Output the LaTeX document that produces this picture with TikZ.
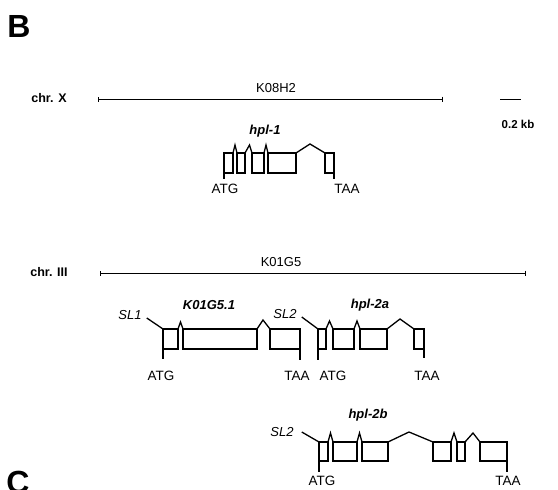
\documentclass[tikz,border=0pt]{standalone}
\usepackage{fontspec}
\setsansfont{Liberation Sans}
\usetikzlibrary{arrows.meta}

\begin{document}
\begin{tikzpicture}[
    x=1pt, y=-1pt,
    font=\sffamily,
    panel/.style={font=\sffamily\bfseries\fontsize{32}{32}\selectfont, inner sep=0pt},
    chr label/.style={font=\sffamily\bfseries\fontsize{12.5}{13}\selectfont, inner sep=0pt},
    clone label/.style={font=\sffamily\fontsize{13}{13}\selectfont, inner sep=0pt},
    gene label/.style={font=\sffamily\bfseries\itshape\fontsize{13}{13}\selectfont, inner sep=0pt},
    sl label/.style={font=\sffamily\itshape\fontsize{13}{13}\selectfont, inner sep=0pt},
    codon/.style={font=\sffamily\fontsize{13.5}{13}\selectfont, inner sep=0pt},
    chr line/.style={line width=0.9pt, arrows={Bar[width=5pt]-Bar[width=5pt]}},
    exon/.style={line width=1.3pt},
    intron/.style={line width=1.3pt, line join=miter},
]

\useasboundingbox (0,0) rectangle (558,490);

% Panel letters
\node[panel] (pB) at (19,26) {B};
\node[panel, anchor=north] (pC) at (18,471) {C};

% chr. X with K08H2
\node[chr label] (chrX) at (49,98) {chr. X};
\coordinate (k08a) at (98,99);
\coordinate (k08b) at (443,99);
\draw[chr line] (k08a) -- (k08b);
\node[clone label] (k08) at (276,88) {K08H2};

% Scale bar
\coordinate (sba) at (500,99);
\coordinate (sbb) at (521,99);
\draw[line width=1pt] (sba) -- (sbb);
\node[clone label, font=\sffamily\bfseries\fontsize{11.5}{12}\selectfont] (sbl) at (518,124) {0.2 kb};

% hpl-1
\def\yt{153}\def\yb{173}
\node[gene label] (hpl1) at (265,131) {hpl-1};
\foreach \a/\b in {224/233, 237/245, 252/264, 268/296, 325/334}
    \draw[exon] (\a,\yt) rectangle (\b,\yb);
\foreach \a/\p/\b in {233/235/237, 245/249.5/252, 264/266/268}
    \draw[intron] (\a,\yt) -- (\p,145) -- (\b,\yt);
\draw[intron] (296,\yt) -- (310,144) -- (325,\yt);
\draw[exon] (224,\yb) -- (224,179);
\draw[exon] (334,\yb) -- (334,179);
\node[codon] (atg1) at (225,189) {ATG};
\node[codon] (taa1) at (347,189) {TAA};

% chr. III with K01G5
\node[chr label] (chrIII) at (49,272) {chr. III};
\coordinate (k01a) at (100,273);
\coordinate (k01b) at (526,273);
\draw[chr line] (k01a) -- (k01b);
\node[clone label] (k01) at (281,262) {K01G5};

% K01G5.1
\def\yt{329}\def\yb{349}
\node[gene label] (k0151) at (209,305) {K01G5.1};
\node[sl label] (sl1) at (130,315) {SL1};
\coordinate (k0151s) at (163,\yt);
\draw[exon] (sl1.east) ++(5,3) -- (k0151s);
\foreach \a/\b in {163/178, 183/257, 270/300}
    \draw[exon] (\a,\yt) rectangle (\b,\yb);
\draw[intron] (178,\yt) -- (180.5,322) -- (183,\yt);
\draw[intron] (257,\yt) -- (263,320) -- (270,\yt);
\draw[exon] (163,\yb) -- (163,359);
\draw[exon] (300,\yb) -- (300,360);
\node[codon] (atg2) at (161,376) {ATG};
\node[codon] (taa2) at (297,376) {TAA};

% hpl-2a
\node[gene label] (hpl2a) at (370,305) {hpl-2a};
\node[sl label] (sl2a) at (285,314) {SL2};
\coordinate (hpl2as) at (318,\yt);
\draw[exon] (sl2a.east) ++(5,3) -- (hpl2as);
\foreach \a/\b in {318/326, 333/354, 360/387, 414/424}
    \draw[exon] (\a,\yt) rectangle (\b,\yb);
\foreach \a/\p/\b in {326/329.5/333, 354/357/360}
    \draw[intron] (\a,\yt) -- (\p,321) -- (\b,\yt);
\draw[intron] (387,\yt) -- (400,319) -- (414,\yt);
\draw[exon] (318,\yb) -- (318,360);
\draw[exon] (424,\yb) -- (424,358);
\node[codon] (atg3) at (333,376) {ATG};
\node[codon] (taa3) at (427,376) {TAA};

% hpl-2b
\def\yt{442}\def\yb{461}
\node[gene label] (hpl2b) at (368,415) {hpl-2b};
\node[sl label] (sl2b) at (282,432) {SL2};
\coordinate (hpl2bs) at (319,\yt);
\draw[exon] (sl2b.east) ++(8,0) -- (hpl2bs);
\foreach \a/\b in {319/328, 333/357, 362/388, 433/451, 457/465, 480/507}
    \draw[exon] (\a,\yt) rectangle (\b,\yb);
\foreach \a/\p/\b in {328/330.5/333, 357/359.5/362, 451/454/457, 465/473/480}
    \draw[intron] (\a,\yt) -- (\p,433) -- (\b,\yt);
\draw[intron] (388,\yt) -- (409,432) -- (433,\yt);
\draw[exon] (319,\yb) -- (319,472);
\draw[exon] (507,\yb) -- (507,472);
\node[codon] (atg4) at (322,481) {ATG};
\node[codon] (taa4) at (508,481) {TAA};

\end{tikzpicture}
\end{document}
